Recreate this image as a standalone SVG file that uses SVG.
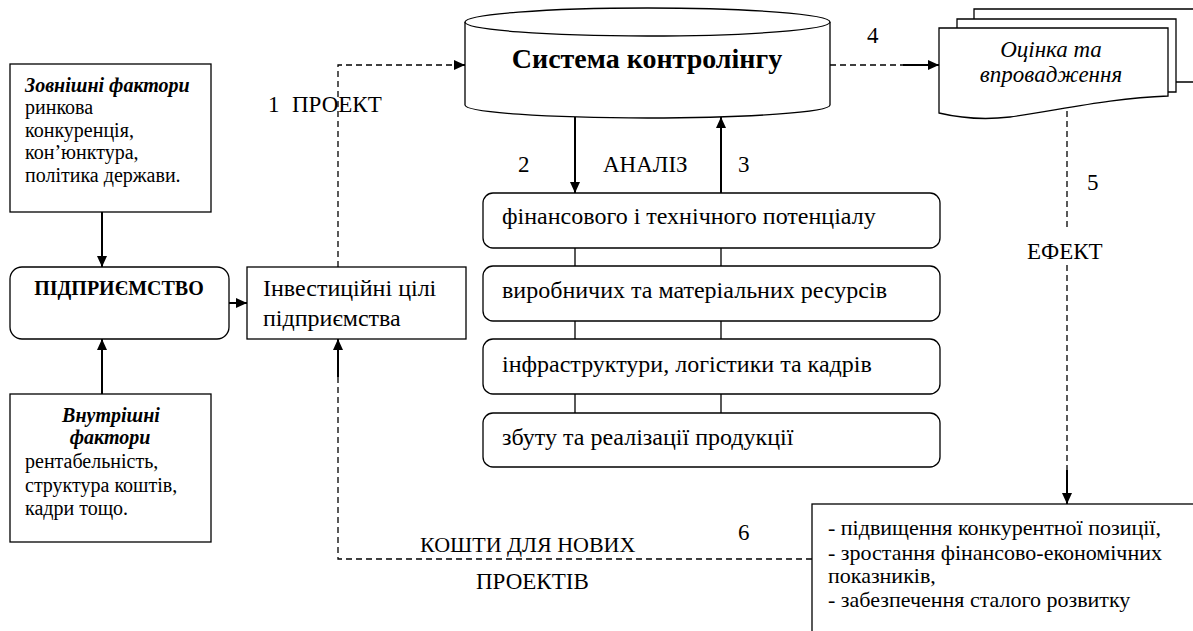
<svg xmlns="http://www.w3.org/2000/svg" width="1193" height="631" viewBox="0 0 1193 631">
<style>
.box{fill:#fff;stroke:#000;stroke-width:1.3}
.t{fill:#000}
.dash{fill:none;stroke:#000;stroke-width:1.3;stroke-dasharray:6 4}
.ln{fill:none;stroke:#000;stroke-width:1.3}
.arr{fill:none;stroke:#000;stroke-width:2;marker-end:url(#ah)}
</style>
<defs>
<marker id="ah" markerUnits="userSpaceOnUse" markerWidth="12" markerHeight="10" refX="11" refY="5" orient="auto">
<path d="M0,0 L11,5 L0,10 z" fill="#000"/>
</marker>
</defs>
<rect width="1193" height="631" fill="#fff"/>

<g id="connectors">
<path class="dash" d="M338,267 V65 H456"/>
<path class="arr" d="M454,65 H465"/>
<path class="arr" d="M102,212 V267"/>
<path class="arr" d="M102,394 V339"/>
<path class="arr" d="M229,303 H247"/>
<path class="arr" d="M575,117 V193"/>
<path class="arr" d="M721,193 V117"/>
<path class="ln" d="M575,248 V266 M721,248 V266 M575,321 V339 M721,321 V339 M575,394 V413 M721,394 V413"/>
<path class="dash" d="M830,65 H903"/>
<path class="arr" d="M903,65 H939"/>
<path class="dash" d="M1067,111 V228 M1067,265 V472"/>
<path class="arr" d="M1067,470 V504"/>
<path class="dash" d="M812,559 H338 V377"/>
<path class="arr" d="M338,377 V339"/>
</g>

<g font-family="Liberation Serif, DejaVu Serif, serif">
<g id="zovnishni">
<rect class="box" x="10" y="64" width="201" height="148"/>
<text class="t" font-size="20" x="25" y="92" font-weight="bold" font-style="italic">Зовнішні фактори</text>
<text class="t" font-size="20" x="25" y="114">ринкова</text>
<text class="t" font-size="20" x="25" y="137">конкуренція,</text>
<text class="t" font-size="20" x="25" y="159">кон’юнктура,</text>
<text class="t" font-size="20" x="25" y="182">політика держави.</text>
</g>

<g id="pidpryiemstvo">
<rect class="box" x="10" y="267" width="219" height="72" rx="12"/>
<text class="t" font-size="20" font-weight="bold" x="119" y="295" text-anchor="middle">ПІДПРИЄМСТВО</text>
</g>

<g id="vnutrishni">
<rect class="box" x="10" y="394" width="201" height="148"/>
<text class="t" font-size="20" x="111" y="422" font-weight="bold" font-style="italic" text-anchor="middle">Внутрішні</text>
<text class="t" font-size="20" x="110" y="444" font-weight="bold" font-style="italic" text-anchor="middle">фактори</text>
<text class="t" font-size="20" x="25" y="468">рентабельність,</text>
<text class="t" font-size="20" x="25" y="492">структура коштів,</text>
<text class="t" font-size="20" x="25" y="515">кадри тощо.</text>
</g>

<g id="investytsiini">
<rect class="box" x="247" y="267" width="219" height="72"/>
<text class="t" font-size="24" x="263" y="296">Інвестиційні цілі</text>
<text class="t" font-size="24" x="263" y="326">підприємства</text>
</g>

<g id="kontroling">
<path class="box" d="M465,22 V105 A182.5,13 0 0 0 830,105 V22"/>
<ellipse class="box" cx="647.5" cy="22" rx="182.5" ry="14"/>
<text class="t" font-size="28" font-weight="bold" x="647" y="68" text-anchor="middle">Система контролінгу</text>
</g>

<g id="analiz1">
<rect class="box" x="483" y="193" width="457" height="55" rx="10"/>
<text class="t" font-size="24" x="502" y="224">фінансового і технічного потенціалу</text>
</g>
<g id="analiz2">
<rect class="box" x="483" y="266" width="457" height="55" rx="10"/>
<text class="t" font-size="24" x="502" y="298">виробничих та матеріальних ресурсів</text>
</g>
<g id="analiz3">
<rect class="box" x="483" y="339" width="457" height="55" rx="10"/>
<text class="t" font-size="24" x="502" y="372">інфраструктури, логістики та кадрів</text>
</g>
<g id="analiz4">
<rect class="box" x="483" y="413" width="457" height="54" rx="10"/>
<text class="t" font-size="24" x="502" y="445">збуту та реалізації продукції</text>
</g>

<g id="otsinka">
<path class="box" d="M974,19 V9 H1200 V82 H1176"/>
<path class="box" d="M957,28 V19 H1176 V92 H1168"/>
<path class="box" d="M939,113 V28 H1168 V96 C1110,98 1060,110 1010,117 C985,120 960,118 939,113 Z"/>
<text class="t" font-size="23" font-style="italic" x="1051" y="57" text-anchor="middle">Оцінка та</text>
<text class="t" font-size="23" font-style="italic" x="1051" y="82" text-anchor="middle">впровадження</text>
</g>

<g id="rezultaty">
<rect class="box" x="812" y="504" width="400" height="150"/>
<text class="t" font-size="22" x="828" y="535">- підвищення конкурентної позиції,</text>
<text class="t" font-size="22" x="828" y="560">- зростання фінансово-економічних</text>
<text class="t" font-size="22" x="828" y="583">показників,</text>
<text class="t" font-size="22" x="828" y="607">- забезпечення сталого розвитку</text>
</g>

<g id="labels">
<text class="t" font-size="23" x="268" y="112">1</text>
<text class="t" font-size="23" x="292" y="112">ПРОЕКТ</text>
<text class="t" font-size="23" x="518" y="172">2</text>
<text class="t" font-size="23" x="603" y="172">АНАЛІЗ</text>
<text class="t" font-size="23" x="738" y="172">3</text>
<text class="t" font-size="23" x="867" y="43">4</text>
<text class="t" font-size="23" x="1087" y="190">5</text>
<text class="t" font-size="23" x="1027" y="259">ЕФЕКТ</text>
<text class="t" font-size="23" x="738" y="540">6</text>
<text class="t" font-size="22" x="420" y="552">КОШТИ ДЛЯ НОВИХ</text>
<text class="t" font-size="23" x="476" y="589">ПРОЕКТІВ</text>
</g>
</g>
</svg>
